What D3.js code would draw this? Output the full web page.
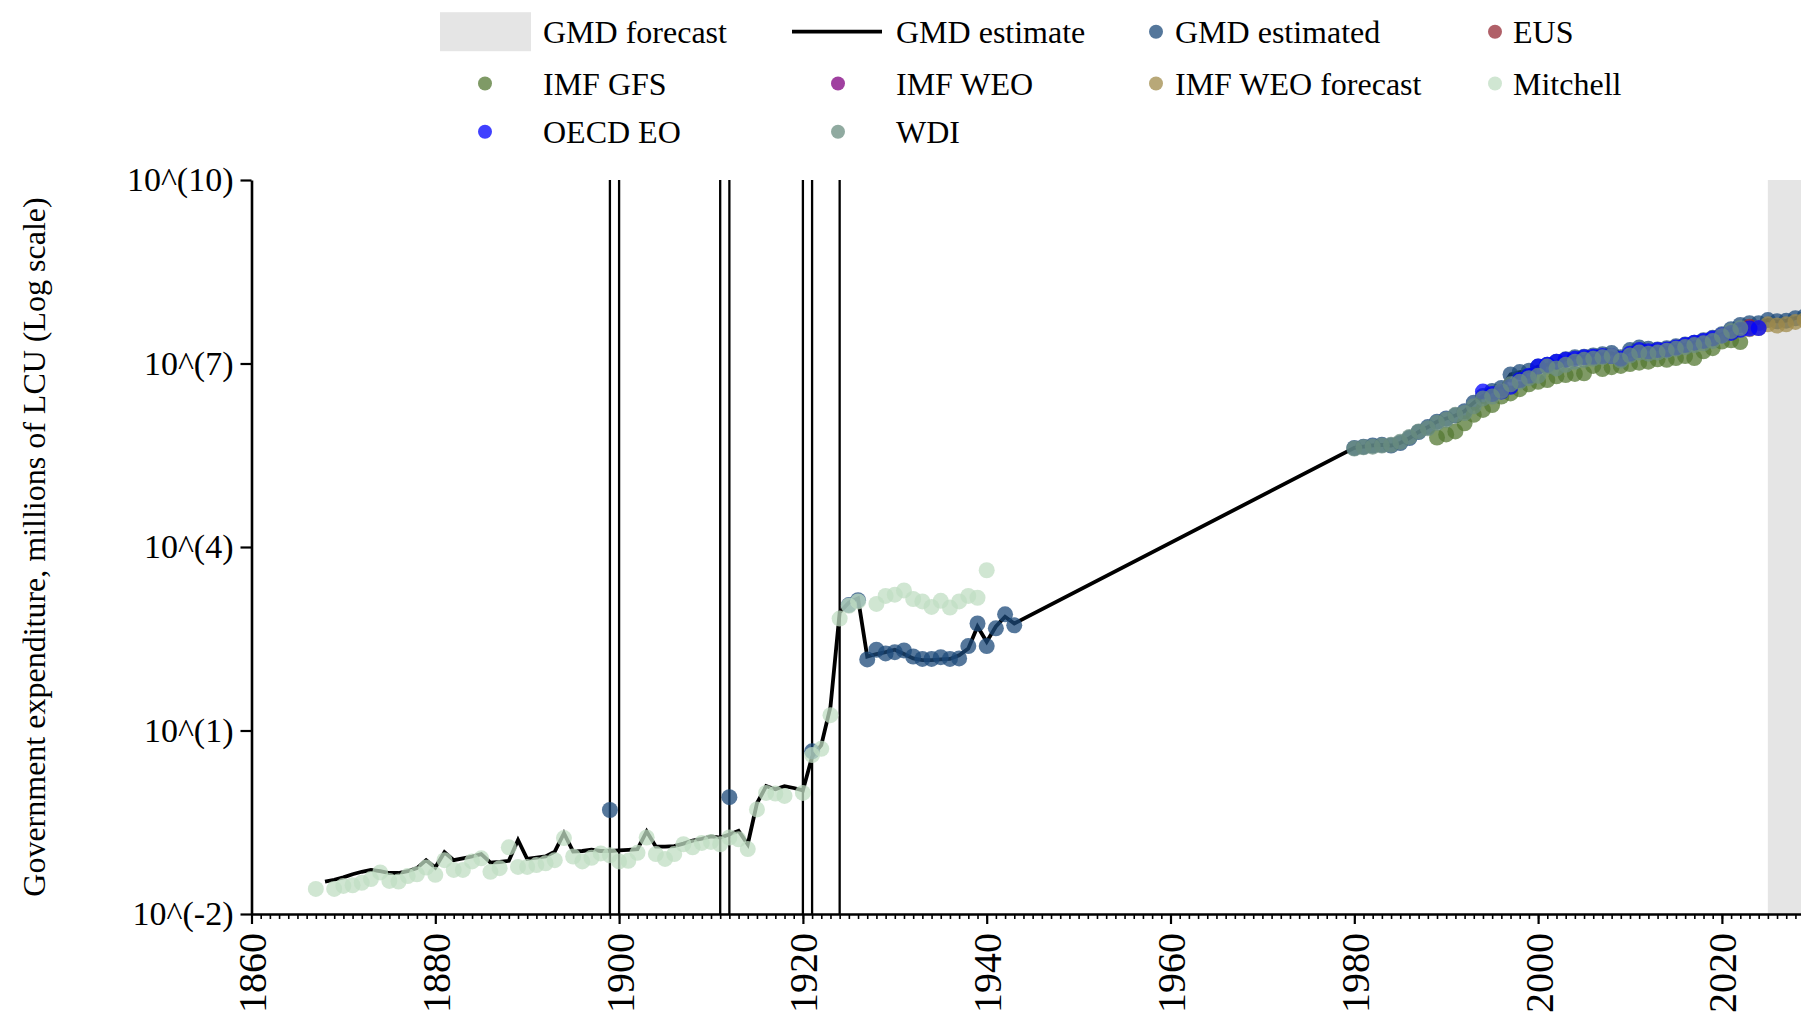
<!DOCTYPE html>
<html><head><meta charset="utf-8">
<script src="https://cdn.jsdelivr.net/npm/d3@7"></script>
<style>
body{margin:0;background:#fff}
svg{display:block}
text{font-family:"Liberation Serif","Times New Roman",serif;fill:#000}
</style>
</head><body>
<svg id="chart" width="1801" height="1017"></svg>
<script>
// ---------------- DATA ----------------
const xTickYears = [1860, 1880, 1900, 1920, 1940, 1960, 1980, 2000, 2020];
const yTickValues = [1e-2, 1e1, 1e4, 1e7, 1e10];
const yTickLabels = ["10^(-2)", "10^(1)", "10^(4)", "10^(7)", "10^(10)"];
const crisisYears = [1899, 1900, 1911, 1912, 1920, 1921, 1924];
const forecastStartYear = 2025;

// GMD estimate (line)
const gmdEstimateYears = [1868,1869,1870,1871,1872,1873,1874,1875,1876,1877,1878,1879,1880,1881,1882,1883,1884,1885,1886,1887,1888,1889,1890,1891,1892,1893,1894,1895,1896,1897,1898,1899,1900,1901,1902,1903,1904,1905,1906,1907,1908,1909,1910,1911,1912,1913,1914,1915,1916,1917,1918,1919,1920,1921,1922,1923,1924,1925,1926,1927,1928,1929,1930,1931,1932,1933,1934,1935,1936,1937,1938,1939,1940,1941,1942,1943,
  1980,1981,1982,1983,1984,1985,1986,1987,1988,1989,1990,1991,1992,1993,1994,1995,1996,1997,1998,1999,2000,2001,2002,2003,2004,2005,2006,2007,2008,2009,2010,2011,2012,2013,2014,2015,2016,2017,2018,2019,2020,2021,2022,2023,2024,2025,2026,2027,2028,2029,2030];
const gmdEstimateValues = [0.0339,0.0363,0.0398,0.0447,0.0490,0.0525,0.0501,0.0468,0.0468,0.0501,0.0562,0.0759,0.0575,0.1023,0.0759,0.0813,0.0871,0.0955,0.0692,0.0708,0.0741,0.162,0.0794,0.0832,0.0871,0.1047,0.209,0.1047,0.1072,0.1122,0.1072,0.1072,0.1096,0.1122,0.1148,0.224,0.1259,0.1259,0.1288,0.1413,0.1585,0.1698,0.1862,0.1778,0.1995,0.229,0.138,0.646,1.23,1.096,1.23,1.148,1.047,3.72,5.75,24.5,851,1230,1445,162,178,191,209,178,151,141,141,145,148,170,219,501,282,501,724,562,
  4.17e5,4.37e5,4.57e5,4.68e5,4.57e5,5.01e5,6.03e5,7.59e5,9.12e5,1.12e6,1.26e6,1.41e6,1.66e6,2.29e6,2.95e6,3.55e6,3.98e6,6.61e6,7.24e6,7.59e6,8.91e6,9.55e6,1.07e7,1.17e7,1.26e7,1.29e7,1.35e7,1.41e7,1.48e7,1.26e7,1.66e7,1.82e7,1.74e7,1.70e7,1.78e7,1.91e7,2.04e7,2.19e7,2.40e7,2.63e7,3.02e7,3.63e7,4.27e7,4.57e7,4.57e7,5.13e7,4.90e7,5.01e7,5.50e7,5.89e7,6.31e7];

// GMD estimated (points)
const gmdEstimatedYears = [1899,1912,1921,1925,1926,1927,1928,1929,1930,1931,1932,1933,1934,1935,1936,1937,1938,1939,1940,1941,1942,1943,
  1980,1981,1982,1983,1984,1985,1986,1987,1988,1989,1990,1991,1992,1993,1994,1995,1996,1997,1998,1999,2000,2001,2002,2003,2004,2005,2006,2007,2008,2009,2010,2011,2012,2013,2014,2015,2016,2017,2018,2019,2020,2021,2022,2023,2024,2025,2026,2027,2028,2029,2030];
const gmdEstimatedValues = [0.501,0.813,4.57,1122,1349,145,209,182,191,204,162,148,148,158,148,151,240,562,240,468,794,525,
  4.17e5,4.37e5,4.57e5,4.68e5,4.57e5,5.01e5,6.03e5,7.59e5,9.12e5,1.12e6,1.26e6,1.41e6,1.66e6,2.29e6,2.95e6,3.55e6,3.98e6,6.61e6,7.24e6,7.59e6,8.91e6,9.55e6,1.07e7,1.17e7,1.26e7,1.29e7,1.35e7,1.41e7,1.48e7,1.26e7,1.66e7,1.82e7,1.74e7,1.70e7,1.78e7,1.91e7,2.04e7,2.19e7,2.40e7,2.63e7,3.02e7,3.63e7,4.27e7,4.57e7,4.57e7,5.13e7,4.90e7,5.01e7,5.50e7,5.89e7,6.31e7];

const eusYears = [2023];
const eusValues = [3.98e7];

const imfGfsYears = [1989,1990,1991,1992,1993,1994,1995,1996,1997,1998,1999,2000,2001,2002,2003,2004,2005,2006,2007,2008,2009,2010,2011,2012,2013,2014,2015,2016,2017,2018,2019,2020,2021,2022];
const imfGfsValues = [6.17e5,6.92e5,7.76e5,1.05e6,1.45e6,1.74e6,2.09e6,2.88e6,3.24e6,3.80e6,4.57e6,5.01e6,5.37e6,6.17e6,6.46e6,6.76e6,6.92e6,9.12e6,8.13e6,8.71e6,9.12e6,9.77e6,1.03e7,1.07e7,1.17e7,1.15e7,1.23e7,1.32e7,1.23e7,1.58e7,1.78e7,2.29e7,2.40e7,2.24e7];

const imfWeoYears = [];
const imfWeoValues = [];

const imfWeoForecastYears = [2023,2024,2025,2026,2027,2028,2029];
const imfWeoForecastValues = [3.63e7,3.80e7,4.37e7,4.17e7,4.37e7,4.79e7,5.13e7];

const mitchellYears = [1867,1869,1870,1871,1872,1873,1874,1875,1876,1877,1878,1879,1880,1881,1882,1883,1884,1885,1886,1887,1888,1889,1890,1891,1892,1893,1894,1895,1896,1897,1898,1899,1900,1901,1902,1903,1904,1905,1906,1907,1908,1909,1910,1911,1912,1913,1914,1915,1916,1917,1918,1920,1921,1922,1923,1924,1925,1926,1928,1929,1930,1931,1932,1933,1934,1935,1936,1937,1938,1939,1940];
const mitchellValues = [0.0257,0.0257,0.0288,0.0295,0.0324,0.0372,0.0479,0.0347,0.0339,0.0417,0.0447,0.0575,0.0437,0.0759,0.0525,0.0525,0.0724,0.0813,0.0490,0.0562,0.123,0.0589,0.0589,0.0631,0.0676,0.0759,0.174,0.0871,0.0724,0.0832,0.0977,0.0912,0.0724,0.0741,0.100,0.178,0.0955,0.0794,0.0955,0.138,0.123,0.145,0.151,0.138,0.178,0.166,0.115,0.513,0.955,0.933,0.851,0.955,3.98,5.01,17.8,676,1096,1288,1175,1585,1660,1950,1413,1288,1047,1318,1023,1288,1585,1479,4169];

const oecdYears = [1994,1995,1996,1997,1998,1999,2000,2001,2002,2003,2004,2005,2006,2007,2008,2009,2010,2011,2012,2013,2014,2015,2016,2017,2018,2019,2020,2021,2022,2023,2024];
const oecdValues = [3.47e6,3.16e6,3.47e6,4.17e6,5.37e6,6.31e6,8.91e6,9.55e6,1.07e7,1.15e7,1.20e7,1.26e7,1.29e7,1.32e7,1.32e7,1.20e7,1.45e7,1.66e7,1.58e7,1.66e7,1.70e7,1.82e7,2.00e7,2.19e7,2.34e7,2.57e7,2.88e7,3.16e7,3.55e7,3.72e7,3.80e7];

const wdiYears = [1980,1981,1982,1983,1984,1985,1986,1987,1988,1989,1990,1991,1992,1993,1994,1995,1996,1997,1998,1999,2000,2001,2002,2003,2004,2005,2006,2007,2008,2009,2010,2011,2012,2013,2014,2015,2016,2017,2018,2019,2020,2021,2022];
const wdiValues = [4.07e5,4.27e5,4.37e5,4.57e5,4.68e5,5.25e5,6.31e5,7.76e5,8.71e5,1.07e6,1.20e6,1.45e6,1.55e6,2.00e6,2.69e6,2.88e6,3.55e6,4.57e6,5.01e6,5.75e6,6.31e6,8.91e6,8.32e6,9.55e6,1.07e7,1.15e7,1.20e7,1.26e7,1.32e7,1.12e7,1.35e7,1.51e7,1.45e7,1.51e7,1.62e7,1.74e7,1.86e7,2.00e7,2.14e7,2.34e7,2.82e7,3.39e7,3.80e7];

const legendLabels = ["GMD forecast","GMD estimate","GMD estimated","EUS","IMF GFS","IMF WEO","IMF WEO forecast","Mitchell","OECD EO","WDI"];

// ---------------- CHART ----------------
const svg = d3.select("#chart");
const x = d3.scaleLinear().domain([1860, 2030]).range([251.5, 1813.8]);
const y = d3.scaleLog().domain([1e-2, 1e10]).range([914, 180]);
const yTop = y(1e10), yBot = y(1e-2);

const colors = {
  "GMD estimated": "#1c4a7a",
  "EUS": "#952b35",
  "IMF GFS": "#547833",
  "IMF WEO": "#800080",
  "IMF WEO forecast": "#a08b4b",
  "Mitchell": "#c0ddc3",
  "OECD EO": "#0000ff",
  "WDI": "#6b8d80"
};
const ALPHA = 0.75, R = 8, LEG_R = 7;

// forecast shading
svg.append("rect")
  .attr("x", x(forecastStartYear)).attr("y", yTop)
  .attr("width", x(2030) - x(forecastStartYear)).attr("height", yBot - yTop)
  .attr("fill", "#e5e5e5");

// crisis lines
svg.append("g").selectAll("line").data(crisisYears).join("line")
  .attr("x1", d => x(d)).attr("x2", d => x(d))
  .attr("y1", yTop).attr("y2", yBot)
  .attr("stroke", "#000").attr("stroke-width", 2.3);

// GMD estimate line
const lineData = gmdEstimateYears.map((yr, i) => [yr, gmdEstimateValues[i]]);
svg.append("path").datum(lineData)
  .attr("fill", "none").attr("stroke", "#000").attr("stroke-width", 3.8)
  .attr("stroke-linejoin", "miter")
  .attr("d", d3.line().x(d => x(d[0])).y(d => y(d[1])));

// scatter series in plotting order
const series = [
  ["GMD estimated", gmdEstimatedYears, gmdEstimatedValues],
  ["EUS", eusYears, eusValues],
  ["IMF GFS", imfGfsYears, imfGfsValues],
  ["IMF WEO", imfWeoYears, imfWeoValues],
  ["IMF WEO forecast", imfWeoForecastYears, imfWeoForecastValues],
  ["Mitchell", mitchellYears, mitchellValues],
  ["OECD EO", oecdYears, oecdValues],
  ["WDI", wdiYears, wdiValues]
];
series.forEach(([name, yrs, vals]) => {
  svg.append("g").selectAll("circle").data(yrs.map((yr, i) => [yr, vals[i]])).join("circle")
    .attr("cx", d => x(d[0])).attr("cy", d => y(d[1])).attr("r", R)
    .attr("fill", colors[name]).attr("fill-opacity", ALPHA);
});

// axes
const xMinor = d3.range(1860, 2030, 1);
const gxMinor = svg.append("g").attr("transform", `translate(0,${yBot})`)
  .call(d3.axisBottom(x).tickValues(xMinor).tickSize(5).tickFormat("").tickSizeOuter(0));
gxMinor.select(".domain").remove();
gxMinor.selectAll(".tick line").attr("stroke-width", 1.6);

const gx = svg.append("g").attr("transform", `translate(0,${yBot})`)
  .call(d3.axisBottom(x).tickValues(xTickYears).tickSize(10).tickSizeOuter(0).tickFormat(d3.format("d")));
gx.select(".domain").attr("stroke-width", 2.6);
gx.selectAll(".tick line").attr("stroke-width", 2.2);
gx.selectAll(".tick text")
  .attr("transform", "rotate(-90)")
  .attr("x", -19).attr("y", 0).attr("dy", "0.35em")
  .attr("text-anchor", "end")
  .style("font-size", "40px").style("font-family", "'Liberation Serif', serif");

const gy = svg.append("g").attr("transform", `translate(${x(1860)},0)`)
  .call(d3.axisLeft(y).tickValues(yTickValues).tickSize(11).tickPadding(7).tickSizeOuter(0)
    .tickFormat((d, i) => yTickLabels[i]));
gy.select(".domain").attr("stroke-width", 2.6);
gy.selectAll(".tick line").attr("stroke-width", 2.2);
gy.selectAll(".tick text").style("font-size", "34px").style("font-family", "'Liberation Serif', serif");

// y label
svg.append("text")
  .attr("transform", `translate(45,${(yTop + yBot) / 2}) rotate(-90)`)
  .attr("text-anchor", "middle")
  .style("font-size", "32px")
  .text("Government expenditure, millions of LCU (Log scale)");

// legend
const rowY = [31.7, 83.5, 131.7];
const colText = [543, 896, 1175, 1513];
const colMarker = [485, 838, 1156, 1495];
const legendItems = [
  {label: legendLabels[0], type: "rect", col: 0, row: 0},
  {label: legendLabels[1], type: "line", col: 1, row: 0},
  {label: legendLabels[2], type: "dot", col: 2, row: 0},
  {label: legendLabels[3], type: "dot", col: 3, row: 0},
  {label: legendLabels[4], type: "dot", col: 0, row: 1},
  {label: legendLabels[5], type: "dot", col: 1, row: 1},
  {label: legendLabels[6], type: "dot", col: 2, row: 1},
  {label: legendLabels[7], type: "dot", col: 3, row: 1},
  {label: legendLabels[8], type: "dot", col: 0, row: 2},
  {label: legendLabels[9], type: "dot", col: 1, row: 2}
];
const lg = svg.append("g");
legendItems.forEach(it => {
  const cy = rowY[it.row];
  if (it.type === "rect") {
    lg.append("rect").attr("x", 440).attr("y", cy - 19.5).attr("width", 91).attr("height", 39)
      .attr("fill", "#e5e5e5");
  } else if (it.type === "line") {
    lg.append("line").attr("x1", 792).attr("x2", 882).attr("y1", cy).attr("y2", cy)
      .attr("stroke", "#000").attr("stroke-width", 3.8);
  } else {
    lg.append("circle").attr("cx", colMarker[it.col]).attr("cy", cy).attr("r", LEG_R)
      .attr("fill", colors[it.label]).attr("fill-opacity", ALPHA);
  }
  lg.append("text").attr("x", colText[it.col]).attr("y", cy).attr("dy", "0.35em")
    .style("font-size", "32px").text(it.label);
});
</script>
</body></html>
